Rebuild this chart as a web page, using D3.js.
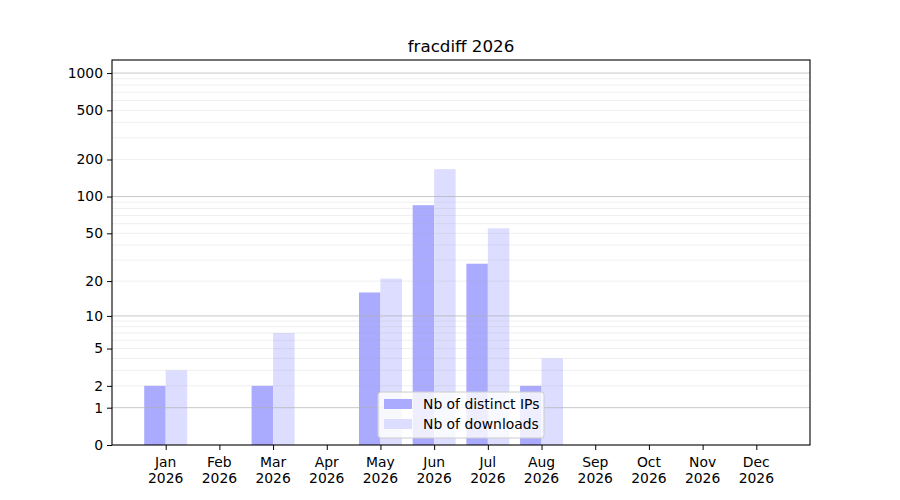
<!DOCTYPE html>
<html>
<head>
<meta charset="utf-8">
<script src="https://cdn.jsdelivr.net/npm/d3@7"></script>
<style>
  body { margin: 0; background: #fff; }
  text { font-family: "DejaVu Sans", sans-serif; }
</style>
</head>
<body>
<svg width="900" height="500"></svg>
<script>
// data
var months = ["Jan", "Feb", "Mar", "Apr", "May", "Jun", "Jul", "Aug", "Sep", "Oct", "Nov", "Dec"];
var year = "2026";
var distinctIPs = [2, 0, 2, 0, 16, 85, 28, 2, 0, 0, 0, 0];
var downloads = [3, 0, 7, 0, 21, 167, 55, 4, 0, 0, 0, 0];
var yTicks = [0, 1, 2, 5, 10, 20, 50, 100, 200, 500, 1000];
var yTop = 1275;

var svg = d3.select("svg"),
    margin = {top: 60, right: 90, bottom: 55, left: 112},
    width = +svg.attr("width") - margin.left - margin.right,
    height = +svg.attr("height") - margin.top - margin.bottom;

svg.append("rect").attr("width", 900).attr("height", 500).attr("fill", "#fff");

var g = svg.append("g").attr("transform", "translate(" + margin.left + "," + margin.top + ")");

var x = d3.scaleLinear().domain([-1, 12]).range([0, width]);

// log(1+x) scale
var ty = d3.scaleLinear().domain([0, Math.log10(1 + yTop)]).range([height, 0]);
function y(v) { return ty(Math.log10(1 + v)); }

var barW = x(0.4) - x(0);

// bars
g.append("g").selectAll("rect")
    .data(distinctIPs)
    .enter().append("rect")
    .attr("x", function(d, i) { return x(i - 0.4); })
    .attr("y", function(d) { return y(d); })
    .attr("width", barW)
    .attr("height", function(d) { return height - y(d); })
    .attr("fill", "#aaaaff");

g.append("g").selectAll("rect")
    .data(downloads)
    .enter().append("rect")
    .attr("x", function(d, i) { return x(i); })
    .attr("y", function(d) { return y(d); })
    .attr("width", barW)
    .attr("height", function(d) { return height - y(d); })
    .attr("fill", "#ddddff");

// grid (minor and major)
var minor = [];
[1, 10, 100].forEach(function(b) {
    for (var k = 2; k <= 9; k++) minor.push(b * k);
});
g.append("g").selectAll("line")
    .data(minor.filter(function(v) { return v <= yTop; }))
    .enter().append("line")
    .attr("x1", 0).attr("x2", width)
    .attr("y1", function(d) { return y(d); })
    .attr("y2", function(d) { return y(d); })
    .attr("stroke", "#b0b0b0").attr("stroke-opacity", 0.2).attr("stroke-width", 1);

g.append("g").selectAll("line")
    .data([1, 10, 100, 1000])
    .enter().append("line")
    .attr("x1", 0).attr("x2", width)
    .attr("y1", function(d) { return y(d); })
    .attr("y2", function(d) { return y(d); })
    .attr("stroke", "#b0b0b0").attr("stroke-opacity", 0.7).attr("stroke-width", 1);

// axes
var yAxis = g.append("g")
    .call(d3.axisLeft(ty)
        .tickValues(yTicks.map(function(v) { return Math.log10(1 + v); }))
        .tickFormat(function(d, i) { return yTicks[i]; })
        .tickSize(5).tickPadding(4));
yAxis.select(".domain").remove();
yAxis.selectAll("text").attr("font-size", 13.9).attr("fill", "#000").attr("font-family", "DejaVu Sans");
yAxis.selectAll("line").attr("stroke", "#000").attr("stroke-width", 1);

var xAxis = g.append("g")
    .attr("transform", "translate(0," + height + ")")
    .call(d3.axisBottom(x).tickValues(d3.range(12)).tickFormat("").tickSize(5));
xAxis.select(".domain").remove();
xAxis.selectAll("line").attr("stroke", "#000").attr("stroke-width", 1);

var xl = g.append("g").attr("font-size", 13.9).attr("text-anchor", "middle").attr("fill", "#000");
xl.selectAll("text.m").data(months).enter().append("text")
    .attr("class", "m")
    .attr("x", function(d, i) { return x(i); })
    .attr("y", height + 22)
    .text(function(d) { return d; });
xl.selectAll("text.yr").data(months).enter().append("text")
    .attr("class", "yr")
    .attr("x", function(d, i) { return x(i); })
    .attr("y", height + 38)
    .text(year);

// frame
g.append("rect")
    .attr("width", width).attr("height", height)
    .attr("fill", "none").attr("stroke", "#000").attr("stroke-width", 1.1);

// title
svg.append("text")
    .attr("x", margin.left + width / 2)
    .attr("y", margin.top - 8)
    .attr("text-anchor", "middle")
    .attr("font-size", 16.7)
    .attr("fill", "#000")
    .text("fracdiff " + year);

// legend
var legend = g.append("g").attr("transform", "translate(" + (378 - margin.left) + "," + (392 - margin.top) + ")");
legend.append("rect")
    .attr("width", 166).attr("height", 46).attr("rx", 3)
    .attr("fill", "#fff").attr("fill-opacity", 0.8)
    .attr("stroke", "#cccccc").attr("stroke-width", 1);
var items = [{label: "Nb of distinct IPs", color: "#aaaaff"}, {label: "Nb of downloads", color: "#ddddff"}];
var li = legend.selectAll("g.item").data(items).enter().append("g")
    .attr("transform", function(d, i) { return "translate(0," + (i * 20) + ")"; });
li.append("rect").attr("x", 6).attr("y", 7).attr("width", 28).attr("height", 10)
    .attr("fill", function(d) { return d.color; });
li.append("text").attr("x", 45).attr("y", 17).attr("font-size", 13.9).attr("fill", "#000")
    .text(function(d) { return d.label; });
</script>
</body>
</html>
